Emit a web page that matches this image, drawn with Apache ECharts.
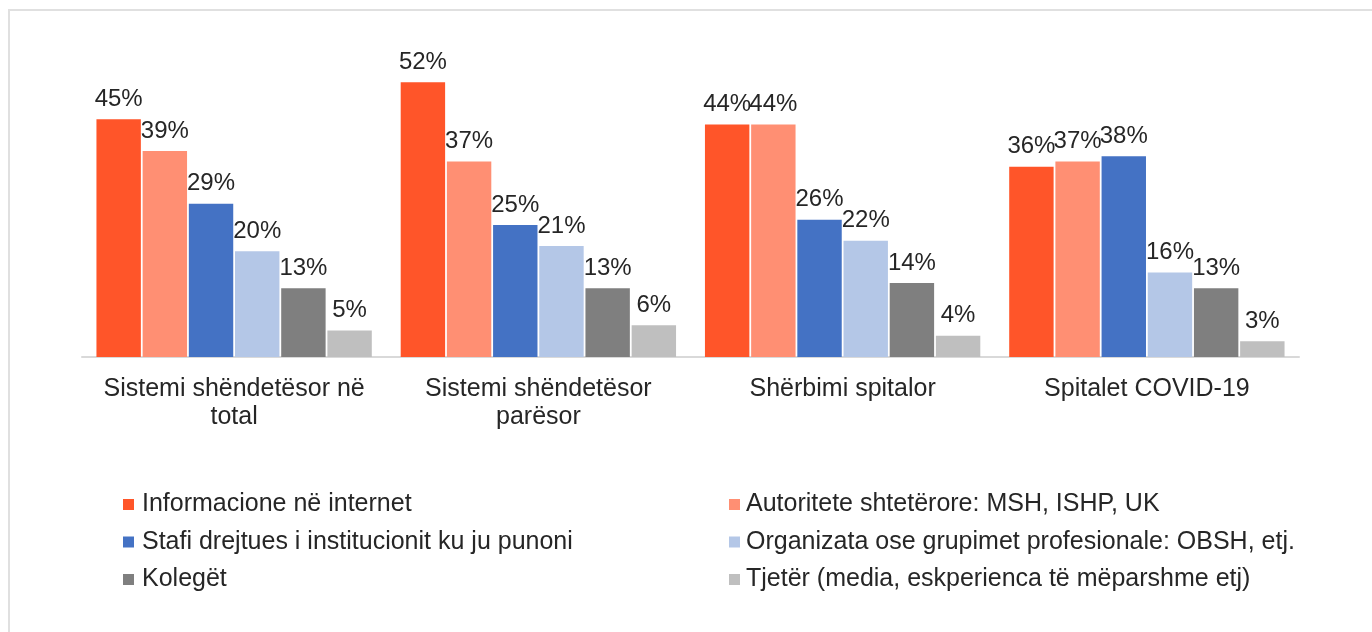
<!DOCTYPE html>
<html>
<head>
<meta charset="utf-8">
<script src="https://cdn.jsdelivr.net/npm/echarts@6/dist/echarts.min.js"></script>
<style>
  html, body { margin: 0; padding: 0; background: #fff; }
  #frame { position: absolute; left: 8px; top: 9px; width: 1400px; height: 700px;
           border-left: 2px solid #e0e0e0; border-top: 2px solid #e0e0e0; box-sizing: border-box; }
  #chart { position: absolute; left: 0; top: 0; width: 1372px; height: 632px; }
</style>
</head>
<body>
<div id="frame"></div>
<div id="chart"></div>
<script>
const categories = [
  'Sistemi shëndetësor në\ntotal',
  'Sistemi shëndetësor\nparësor',
  'Shërbimi spitalor',
  'Spitalet COVID-19'
];
const seriesNames = [
  'Informacione në internet',
  'Autoritete shtetërore: MSH, ISHP, UK',
  'Stafi drejtues i institucionit ku ju punoni',
  'Organizata ose grupimet profesionale: OBSH, etj.',
  'Kolegët',
  'Tjetër (media, eskperienca të mëparshme etj)'
];
const internet   = [45, 52, 44, 36];
const autoritete = [39, 37, 44, 37];
const stafi      = [29, 25, 26, 38];
const organizata = [20, 21, 22, 16];
const kolleget   = [13, 13, 14, 13];
const tjeter     = [5, 6, 4, 3];
const seriesValues = [internet, autoritete, stafi, organizata, kolleget, tjeter];
const colors = ['#FF5529', '#FF8F73', '#4472C4', '#B4C7E7', '#7F7F7F', '#BFBFBF'];

const FONT = 'Liberation Sans, Arial, sans-serif';
const TXT = '#262626';

const chart = echarts.init(document.getElementById('chart'), null, { renderer: 'canvas' });
chart.setOption({
  backgroundColor: 'transparent',
  animation: false,
  textStyle: { fontFamily: FONT, color: TXT },
  grid: { left: 82, right: 73, top: 40, bottom: 275, containLabel: false },
  xAxis: {
    type: 'category',
    data: categories,
    axisLine: { show: true, lineStyle: { color: '#D9D9D9', width: 2 } },
    axisTick: { show: false },
    axisLabel: { fontSize: 25, lineHeight: 28, color: TXT, fontFamily: FONT, margin: 18, interval: 0 }
  },
  yAxis: {
    type: 'value', min: 0, max: 60, interval: 10,
    show: false, splitLine: { show: false }
  },
  legend: [
    {
      data: [seriesNames[0], seriesNames[2], seriesNames[4]],
      orient: 'vertical', left: 118, top: 487, itemGap: 12.5,
      icon: 'rect', itemWidth: 11, itemHeight: 11,
      textStyle: { fontSize: 25, lineHeight: 24, color: TXT, fontFamily: FONT, padding: [0, 0, 0, 3] }
    },
    {
      data: [seriesNames[1], seriesNames[3], seriesNames[5]],
      orient: 'vertical', left: 724, top: 487, itemGap: 12.5,
      icon: 'rect', itemWidth: 11, itemHeight: 11,
      textStyle: { fontSize: 25, lineHeight: 24, color: TXT, fontFamily: FONT, padding: [0, 0, 0, 1] }
    }
  ],
  series: seriesNames.map((name, i) => ({
    name: name,
    type: 'bar',
    data: seriesValues[i],
    barGap: '4%',
    barCategoryGap: '9.5%',
    itemStyle: { color: colors[i] },
    label: {
      show: true, position: 'top', distance: 8,
      formatter: p => p.value + '%',
      fontSize: 24, color: TXT, fontFamily: FONT
    }
  }))
});
</script>
</body>
</html>
